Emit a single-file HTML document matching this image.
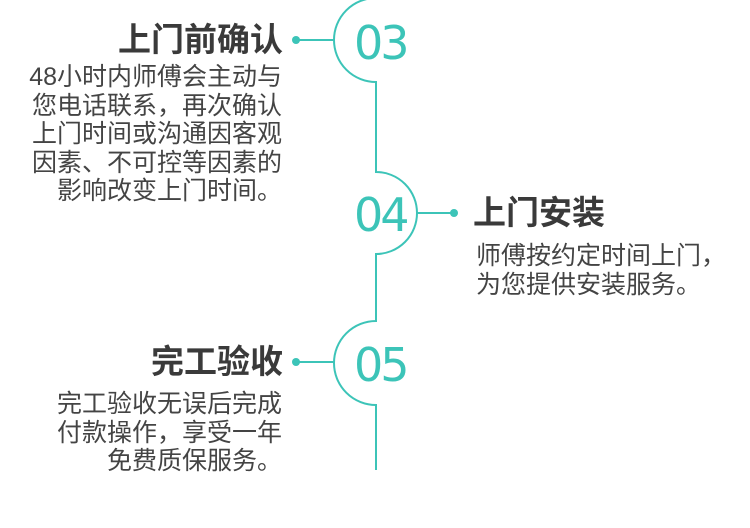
<!DOCTYPE html>
<html><head><meta charset="utf-8"><style>
html,body{margin:0;padding:0;background:#fff;}
body{width:750px;height:528px;position:relative;overflow:hidden;font-family:"Liberation Sans","Noto Sans CJK SC",sans-serif;color:#444;}
.t{position:absolute;font-size:33px;font-weight:bold;color:#3a3a3a;line-height:40px;white-space:nowrap;}
.b{position:absolute;font-size:25px;line-height:28.5px;color:#444;white-space:nowrap;}
.r{text-align:right;}
.n{position:absolute;font-family:"DejaVu Sans","Liberation Sans",sans-serif;font-weight:normal;font-size:46px;color:#3cc4b8;line-height:60px;letter-spacing:-3px;}
</style></head><body>
<svg width="750" height="528" style="position:absolute;left:0;top:0">
<g fill="none" stroke="#3cc4b8" stroke-width="2">
<path d="M376,-2 A42,42 0 0 0 376,82 L376,172 A41,41 0 0 1 376,254 L376,321 A42,42 0 0 0 376,405 L376,470"/>
<line x1="296" y1="40" x2="334" y2="40"/>
<line x1="417" y1="213" x2="454" y2="213"/>
<line x1="296" y1="362" x2="334" y2="362"/>
</g>
<g fill="#3cc4b8">
<circle cx="296" cy="40" r="4"/>
<circle cx="454" cy="213" r="4"/>
<circle cx="296" cy="362" r="4"/>
</g>
</svg>
<div class="n" style="left:354px;top:13px;">03</div>
<div class="n" style="left:354px;top:185px;">04</div>
<div class="n" style="left:354px;top:335px;">05</div>

<div class="t r" style="right:467px;top:20px;">上门前确认</div>
<div class="b r" style="right:468px;top:63px;">48小时内师傅会主动与<br>您电话联系，再次确认<br>上门时间或沟通因客观<br>因素、不可控等因素的<br>影响改变上门时间。</div>

<div class="t" style="left:473px;top:193px;">上门安装</div>
<div class="b" style="left:476px;top:242px;">师傅按约定时间上门，<br>为您提供安装服务。</div>

<div class="t r" style="right:467px;top:342px;">完工验收</div>
<div class="b r" style="right:468px;top:390px;">完工验收无误后完成<br>付款操作，享受一年<br>免费质保服务。</div>
</body></html>
